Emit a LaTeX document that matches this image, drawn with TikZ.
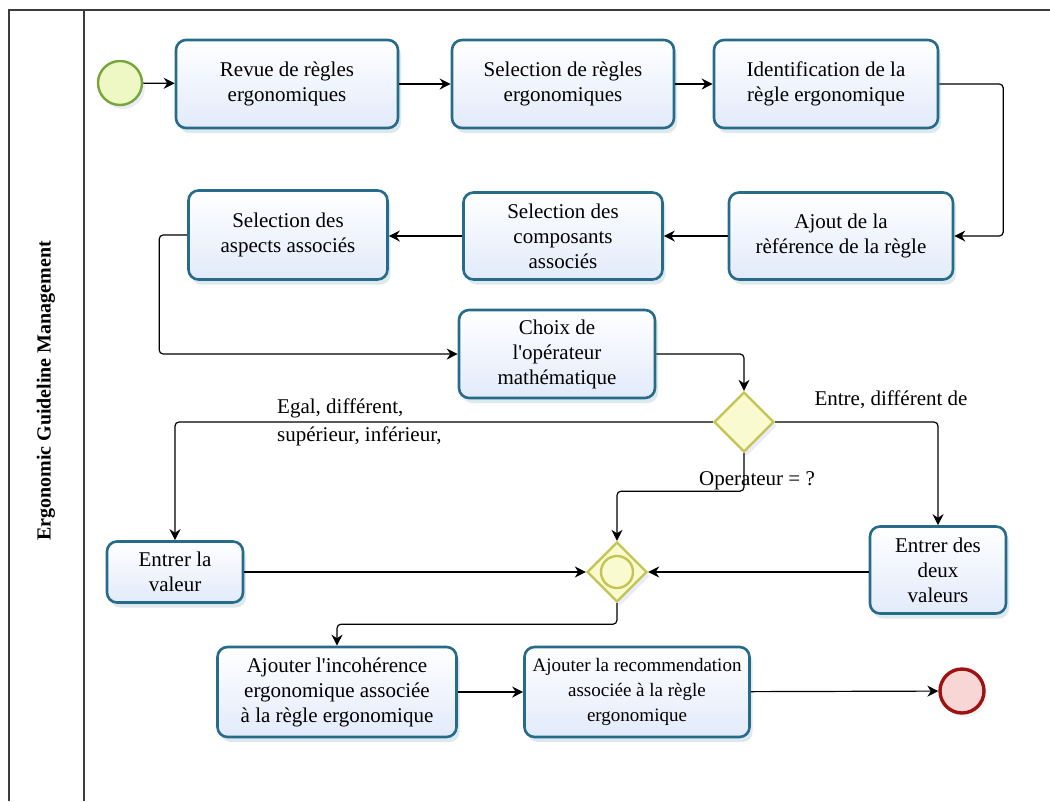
\documentclass[tikz,border=0pt]{standalone}
\usepackage{fontspec}
\setmainfont{Liberation Serif}
\usetikzlibrary{arrows.meta,shadows,shapes.geometric}
\definecolor{taskborder}{RGB}{38,108,138}
\definecolor{taskfill}{RGB}{226,234,250}
\definecolor{startborder}{RGB}{120,165,55}
\definecolor{startfill}{RGB}{238,248,196}
\definecolor{endborder}{RGB}{160,18,18}
\definecolor{endfill}{RGB}{248,214,214}
\definecolor{gateborder}{RGB}{196,196,80}
\definecolor{gatefill}{RGB}{250,250,208}
\definecolor{framecol}{RGB}{60,60,60}
\begin{document}
\begin{tikzpicture}[x=1pt,y=-1pt,
  txt/.style={font=\fontsize{21}{25}\selectfont},
  task/.style={txt, draw=taskborder, line width=2.6pt, rounded corners=10pt,
    top color=white, bottom color=taskfill, align=center, inner sep=0pt,
    drop shadow={shadow xshift=3pt, shadow yshift=-5pt, opacity=0.25, fill=taskborder!60}},
  startev/.style={circle, draw=startborder, line width=2.4pt, fill=startfill, minimum size=44pt, inner sep=0pt,
    drop shadow={shadow xshift=3pt, shadow yshift=-4pt, opacity=0.2, fill=blue!40}},
  endev/.style={circle, draw=endborder, line width=3.4pt, fill=endfill, minimum size=44pt, inner sep=0pt,
    drop shadow={shadow xshift=3pt, shadow yshift=-4pt, opacity=0.2, fill=teal!40}},
  gate/.style={diamond, draw=gateborder, line width=2.4pt, fill=gatefill, minimum width=60pt, minimum height=60pt, inner sep=0pt,
    drop shadow={shadow xshift=3pt, shadow yshift=-4pt, opacity=0.2, fill=blue!40}},
  flow/.style={draw=black, line width=1.2pt, rounded corners=4pt, -{Stealth[length=11pt,width=11pt]}},
  lbl/.style={txt, inner sep=0pt}
]
\useasboundingbox (0,0) rectangle (1050,801);
% frame
\draw[framecol, line width=1.4pt] (9,801) -- (9,10) -- (1050,10);
\draw[framecol, line width=1.4pt] (84,10) -- (84,801);
\node[txt, font=\fontsize{20}{24}\selectfont\bfseries, rotate=90] (lane) at (46,391) {Ergonomic Guideline Management};

% events and gateways
\node[startev] (start) at (120,83) {};
\node[endev] (end) at (962,691) {};
\node[gate] (g1) at (744,422) {};
\node[gate] (g2) at (617,572) {};
\draw[gateborder, line width=2.4pt] (g2.center) circle (16pt);

% tasks
\node[task, minimum width=222pt, minimum height=88pt] (t1) at (287,84) {Revue de règles\\ergonomiques};
\node[task, minimum width=222pt, minimum height=88pt] (t2) at (563,84) {Selection de règles\\ergonomiques};
\node[task, minimum width=224pt, minimum height=88pt] (t3) at (826,84) {Identification de la\\règle ergonomique};
\node[task, minimum width=224pt, minimum height=87pt] (t4) at (841,236) {Ajout de la\\rèférence de la règle};
\node[task, minimum width=199pt, minimum height=87pt] (t5) at (563,236) {Selection des\\composants\\associés};
\node[task, minimum width=199pt, minimum height=89pt] (t6) at (288,235) {Selection des\\aspects associés};
\node[task, minimum width=196pt, minimum height=88pt] (t7) at (557,354) {Choix de\\l\textquotesingle opérateur\\mathématique};
\node[task, minimum width=136pt, minimum height=61pt] (t8) at (175,572) {Entrer la\\valeur};
\node[task, minimum width=136pt, minimum height=87pt] (t9) at (938,570) {Entrer des\\deux\\valeurs};
\node[task, minimum width=239pt, minimum height=90pt] (t10) at (337,692) {Ajouter l\textquotesingle incohérence\\ergonomique associée\\à la règle ergonomique};
\node[task, minimum width=225pt, minimum height=90pt, font=\fontsize{19}{25}\selectfont] (t11) at (637,692) {Ajouter la recommendation\\associée à la règle\\ergonomique};

% labels
\node[lbl, anchor=west] (l1) at (277,408) {Egal, différent,};
\node[lbl, anchor=west] (l2) at (277,436) {supérieur, inférieur,};
\node[lbl] (l3) at (891,400) {Entre, différent de};
\node[lbl] (l4) at (757,481) {Operateur = ?};

% connectors
\draw[flow] (start) -- (t1);
\draw[flow] (t1) -- (t2);
\draw[flow] (t2) -- (t3);
\draw[flow] (t3.east) -- ++(64,0) |- (t4.east);
\draw[flow] (t4) -- (t5);
\draw[flow] (t5.west) -- (t6.east |- t5.west);
\draw[flow] (t6.west) -- ++(-28,0) |- (t7.west);
\draw[flow] (t7.east) -| (g1.north);
\draw[flow] (g1.west) -| (t8.north);
\draw[flow] (g1.east) -| (t9.north);
\draw[flow] (g1.south) -- ++(0,38) -| (g2.north);
\draw[flow] (t8) -- (g2);
\draw[flow] (t9.west |- g2) -- (g2.east);
\draw[flow] (g2.south) -- ++(0,21) -| (t10.north);
\draw[flow] (t10) -- (t11);
\draw[flow] (t11) -- (end);
\end{tikzpicture}
\end{document}
